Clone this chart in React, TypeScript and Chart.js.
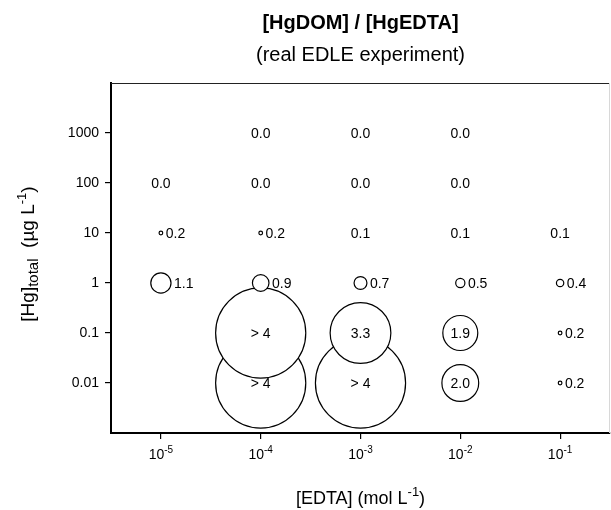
import React, { useEffect, useRef } from "react";
import { Chart, registerables, BubbleController } from "chart.js";
Chart.register(...registerables);

// bubbles must not enlarge the chart padding: the plot frame is fixed
(BubbleController.prototype as any).getMaxOverflow = function () {
  return 0;
};

// EDTA concentrations (mol/L) and their tick exponents
const edtaLevels = [1e-5, 1e-4, 1e-3, 1e-2, 1e-1];
const edtaExponents = ["-5", "-4", "-3", "-2", "-1"];
// total Hg levels (µg/L) and tick labels
const hgLevels = [0.01, 0.1, 1, 10, 100, 1000];
const hgTickLabels = ["0.01", "0.1", "1", "10", "100", "1000"];
// [HgDOM]/[HgEDTA] ratio for each Hg level, one entry per EDTA level (null = no value).
// 4.9 stands for the "> 4" results
const ratioHg0_01 = [null, 4.9, 4.9, 2.0, 0.2];
const ratioHg0_1 = [null, 4.9, 3.3, 1.9, 0.2];
const ratioHg1 = [1.1, 0.9, 0.7, 0.5, 0.4];
const ratioHg10 = [0.2, 0.2, 0.1, 0.1, 0.1];
const ratioHg100 = [0.0, 0.0, 0.0, 0.0, null];
const ratioHg1000 = [null, 0.0, 0.0, 0.0, null];
const overLimit = 4;

const ratioRows = [ratioHg0_01, ratioHg0_1, ratioHg1, ratioHg10, ratioHg100, ratioHg1000];

const FONT = '"Liberation Sans", Arial, Helvetica, sans-serif';
const RADIUS_PER_UNIT = 9.2;

type Part = { text: string; size: number; dy?: number; bold?: boolean };

function drawRich(ctx: CanvasRenderingContext2D, parts: Part[], cx: number, baseline: number) {
  let total = 0;
  const widths = parts.map((p) => {
    ctx.font = `${p.bold ? "bold " : ""}${p.size}px ${FONT}`;
    const w = ctx.measureText(p.text).width;
    total += w;
    return w;
  });
  let x = cx - total / 2;
  ctx.textAlign = "left";
  ctx.textBaseline = "alphabetic";
  parts.forEach((p, i) => {
    ctx.font = `${p.bold ? "bold " : ""}${p.size}px ${FONT}`;
    ctx.fillText(p.text, x, baseline + (p.dy || 0));
    x += widths[i];
  });
}

export default function App() {
  const ref = useRef<HTMLCanvasElement | null>(null);
  useEffect(() => {
    if (!ref.current) return;
    const points: any[] = [];
    ratioRows.forEach((row, ri) => {
      row.forEach((v, ci) => {
        if (v === null || v === undefined) return;
        points.push({
          x: edtaLevels[ci],
          y: hgLevels[ri],
          r: v >= 0.2 ? v * RADIUS_PER_UNIT : 0,
          v,
        });
      });
    });

    const textPlugin = {
      id: "texts",
      afterDatasetsDraw(chart: any) {
        const ctx = chart.ctx as CanvasRenderingContext2D;
        const xs = chart.scales.x;
        const ys = chart.scales.y;
        const ca = chart.chartArea;
        ctx.save();
        // top and right frame
        ctx.strokeStyle = "#222";
        ctx.lineWidth = 1.2;
        ctx.beginPath();
        ctx.moveTo(ca.left, ca.top + 0.5);
        ctx.lineTo(ca.right, ca.top + 0.5);
        ctx.stroke();
        ctx.strokeStyle = "#d8d8d8";
        ctx.lineWidth = 1;
        ctx.beginPath();
        ctx.moveTo(ca.right - 0.5, ca.top);
        ctx.lineTo(ca.right - 0.5, ca.bottom);
        ctx.stroke();

        // bubble labels
        ctx.fillStyle = "#000";
        ctx.font = `14px ${FONT}`;
        ctx.textBaseline = "middle";
        points.forEach((p) => {
          const px = xs.getPixelForValue(p.x);
          const py = ys.getPixelForValue(p.y);
          const label = p.v > overLimit ? "> 4" : p.v.toFixed(1);
          if (p.v < 0.2 || p.v >= 1.5) {
            ctx.textAlign = "center";
            ctx.fillText(label, px, py + 1);
          } else {
            ctx.textAlign = "left";
            ctx.fillText(label, px + p.r + 3, py + 1);
          }
        });

        // x tick labels with superscript
        edtaLevels.forEach((v, i) => {
          const px = xs.getPixelForValue(v);
          drawRich(
            ctx,
            [
              { text: "10", size: 14 },
              { text: edtaExponents[i], size: 10, dy: -6 },
            ],
            px,
            459
          );
        });

        // titles
        ctx.textAlign = "center";
        ctx.textBaseline = "middle";
        const cx = (ca.left + ca.right) / 2;
        ctx.font = `bold 20px ${FONT}`;
        ctx.fillText("[HgDOM] / [HgEDTA]", cx, 23);
        ctx.font = `20px ${FONT}`;
        ctx.fillText("(real EDLE experiment)", cx, 55);

        // x axis title
        drawRich(
          ctx,
          [
            { text: "[EDTA] (mol L", size: 18 },
            { text: "-1", size: 13, dy: -8 },
            { text: ")", size: 18 },
          ],
          cx,
          504
        );

        // y axis title
        ctx.save();
        ctx.translate(34, (ca.top + ca.bottom) / 2 - 4);
        ctx.rotate(-Math.PI / 2);
        drawRich(
          ctx,
          [
            { text: "[Hg]", size: 19 },
            { text: "total", size: 15, dy: 4 },
            { text: "  (µg L", size: 19 },
            { text: "-1", size: 13, dy: -8 },
            { text: ")", size: 19 },
          ],
          0,
          0
        );
        ctx.restore();
        ctx.restore();
      },
    };

    const chart = new Chart(ref.current, {
      type: "bubble",
      data: {
        datasets: [
          {
            data: points,
            backgroundColor: "#ffffff",
            borderColor: "#000000",
            borderWidth: 1.2,
            hoverBorderWidth: 1.2,
            hoverRadius: 0,
            clip: false,
          } as any,
        ],
      },
      options: {
        responsive: false,
        animation: false,
        devicePixelRatio: 1,
        events: [],
        layout: { padding: { top: 83, right: 1, left: 0, bottom: 0 } },
        plugins: {
          legend: { display: false },
          tooltip: { enabled: false },
          title: { display: false },
        },
        scales: {
          x: {
            type: "logarithmic",
            position: "bottom",
            min: Math.pow(10, -5.5),
            max: Math.pow(10, -0.5),
            afterBuildTicks: (s: any) => {
              s.ticks = edtaLevels.map((v) => ({ value: v }));
            },
            afterFit: (s: any) => {
              s.height = 77;
            },
            ticks: { display: false },
            grid: {
              display: true,
              drawOnChartArea: false,
              drawTicks: true,
              tickLength: 6,
              color: "#000",
              lineWidth: 1.2,
            },
            border: { display: true, color: "#000", width: 2 },
          },
          y: {
            type: "logarithmic",
            position: "left",
            min: 0.001,
            max: 10000,
            afterBuildTicks: (s: any) => {
              s.ticks = hgLevels.map((v) => ({ value: v }));
            },
            afterFit: (s: any) => {
              s.width = 111;
            },
            ticks: {
              display: true,
              autoSkip: false,
              padding: 6,
              color: "#000",
              font: { family: FONT, size: 14 },
              callback: (_v: any, i: number) => hgTickLabels[i],
            },
            grid: {
              display: true,
              drawOnChartArea: false,
              drawTicks: true,
              tickLength: 6,
              color: "#000",
              lineWidth: 1.2,
            },
            border: { display: true, color: "#000", width: 2 },
          },
        } as any,
      },
      plugins: [textPlugin],
    });
    return () => chart.destroy();
  }, []);

  return (
    <div style={{ position: "fixed", left: 0, top: 0, width: 611, height: 510, background: "#fff" }}>
      <canvas ref={ref} width={611} height={510} style={{ display: "block" }} />
    </div>
  );
}
